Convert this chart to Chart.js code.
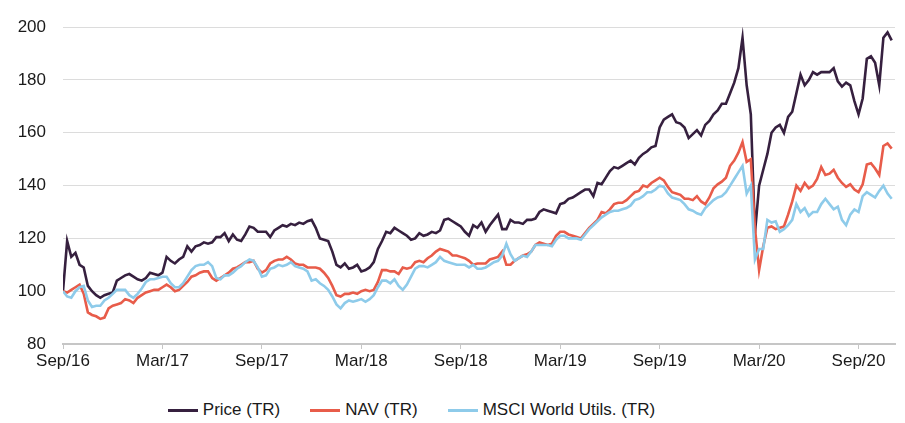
<!DOCTYPE html>
<html lang="en">
<head>
<meta charset="UTF-8">
<title>Price, NAV and MSCI World Utilities (TR)</title>
<script src="https://cdn.jsdelivr.net/npm/chart.js"></script>
<style>
  * { margin: 0; padding: 0; box-sizing: border-box; }
  body { width: 905px; height: 423px; background: #fff; font-family: 'Liberation Sans', Arial, sans-serif; color: #1a1a1a; position: relative; overflow: hidden; }
  .chart-box { position: absolute; left: 0; top: 0; width: 905px; height: 385px; }
  .legend { position: absolute; left: 0; top: 398px; width: 905px; height: 24px; padding-right: 82px;
            display: flex; justify-content: center; align-items: center; font-size: 17px; }
  .legend .item { display: flex; align-items: center; margin: 0 15px; }
  .legend .swatch { width: 30px; height: 3px; margin-right: 5px; }
</style>
</head>
<body>
<div class="chart-box"><canvas id="chart"></canvas></div>
<div class="legend" id="legend"></div>

<script>
// months since Sep/16 for each tick label
const tickLabels = ['Sep/16', 'Mar/17', 'Sep/17', 'Mar/18', 'Sep/18', 'Mar/19', 'Sep/19', 'Mar/20', 'Sep/20'];

// weekly readings (rebased to 100 at Sep/16)
const price = [
  100, 119, 113, 114.5, 110, 109, 102, 100, 98.5, 97.5,
  98.5, 99, 99.5, 104, 105, 106, 106.5, 105.5, 104.5, 104,
  105, 107, 106.5, 106, 107, 113, 111.5, 110.5, 112, 113,
  117, 115, 117, 117.5, 118.5, 118, 118.5, 120.5, 120.5, 122,
  119, 121.5, 119.5, 119, 121.5, 124.5, 124, 122.5, 122.5, 122.5,
  120.5, 123, 124, 125, 124.5, 125.5, 125, 126, 125.5, 126.5,
  127, 124, 120, 119.5, 119, 115, 110, 109, 110.5, 108.5,
  109, 110, 107.5, 108, 109, 111, 116, 119, 122.5, 122,
  124, 123, 122, 121, 119.5, 120, 122, 121, 121.5, 122.5,
  122, 123, 127, 127.5, 126.5, 125.5, 124.5, 122.5, 121, 125,
  124, 126, 122.5, 125, 127, 129, 123.5, 123.5, 127, 126,
  126, 125.5, 127, 127, 127.5, 130, 131, 130.5, 130, 129.5,
  133, 133.5, 135, 135.5, 136.5, 137.5, 138.5, 138.5, 136, 141,
  140.5, 143, 145.5, 147, 146.5, 147.5, 148.5, 149.5, 148, 150.5,
  152, 153, 154.5, 155, 162, 165, 166, 167, 164, 163.5,
  162, 158, 159.5, 161, 159, 163, 164.5, 167, 168.5, 171,
  171, 175, 179, 184.5, 196, 178, 167, 122, 140, 146,
  152, 160, 162, 163, 160, 166, 168, 175, 182, 178,
  180, 183, 182, 183, 183, 183, 184.5, 179.5, 177.5, 179,
  178, 172, 167, 173, 188, 189, 186.5, 178, 196, 198,
  195
];

const nav = [
  100, 99.5, 100.5, 101.5, 102.5, 99, 92, 91, 90.5, 89.5,
  90, 93.5, 94.5, 95, 95.5, 97, 96.5, 95.5, 97.5, 98.5,
  99.5, 100, 100.5, 100.5, 101.5, 102.5, 101.5, 100, 100.5, 102,
  103.5, 105.5, 106, 107, 107.5, 107.5, 105, 104, 105, 106,
  107, 108.5, 109, 110, 111, 111, 111.5, 108.5, 107, 108,
  110.5, 111.5, 112, 112, 113, 112, 110.5, 110, 110, 109,
  109, 109, 108.5, 107, 105, 102, 98.5, 98, 99, 99,
  99.5, 99, 100, 100.5, 100, 100.5, 103.5, 108, 108, 107.5,
  107.5, 106.5, 109, 108.5, 109, 111, 111.5, 111, 112.5, 113.5,
  115, 116, 115.5, 115, 113.5, 113.5, 113, 112.5, 111.5, 110,
  110.5, 110.5, 110.5, 112, 112.5, 113, 115, 110, 110, 111.5,
  112.5, 113.5, 114, 115, 117.5, 118.5, 118, 117.5, 118, 121,
  122.5, 122.5, 121.5, 121, 120.5, 120, 122, 124, 125.5, 127,
  130, 129.5, 131, 133, 133.5, 133.5, 134.5, 136, 137.5, 138,
  140, 139.5, 141, 142, 143, 142, 139.5, 137.5, 137, 136.5,
  135, 135, 134.5, 136, 134, 133, 135.5, 139, 140.5, 141.5,
  143, 147.5, 149.5, 152.5, 156.5, 149, 150, 124, 108, 117,
  124, 124.5, 123.5, 124, 124.5, 129, 134, 140, 138, 141,
  139, 140, 142.5, 147, 144, 144.5, 146, 143, 141, 139.5,
  140.5, 138.5, 137.5, 140.5, 148, 148.5, 146.5, 144, 155, 156,
  154
];

const msci = [
  100, 98, 97.5, 100, 101.5, 102, 96.5, 94, 94.5, 94.5,
  96.5, 97.5, 99, 100.5, 100.5, 100.5, 98.5, 97.5, 99, 101,
  103.5, 104.5, 104.5, 105, 105.5, 105.5, 103, 101.5, 101.5, 103,
  105.5, 108, 109.5, 110, 110, 111, 109.5, 105, 104.5, 106,
  106, 107, 108.5, 109.5, 111, 112, 111.5, 109, 105.5, 106,
  108.5, 109, 110, 109.5, 110, 111, 109.5, 109, 108.5, 107.5,
  104, 104.5, 103, 102, 100.5, 98, 95, 93.5, 95.5, 96.5,
  96, 96.5, 97, 96, 97, 98.5, 101.5, 104, 104, 103,
  104.5, 102, 100.5, 102.5, 105.5, 108.5, 109.5, 109.5, 109, 110,
  111, 113, 111.5, 111, 110.5, 110, 110, 110, 109, 110,
  108.5, 108.5, 109, 110, 111, 111.5, 113.5, 118, 114, 111.5,
  112.5, 113.5, 113, 115, 117.5, 117.5, 117.5, 117.5, 117, 119.5,
  121, 121, 120, 120, 120, 119.5, 121.5, 123.5, 125, 126.5,
  128, 129, 130, 130.5, 130.5, 131, 131.5, 132.5, 134.5, 135,
  136, 137.5, 137.5, 138.5, 140, 139.5, 137, 135.5, 135, 134.5,
  133, 131, 130.5, 129.5, 129, 131.5, 133, 134.5, 135.5, 136,
  137.5, 140, 142.5, 145, 147.5, 137, 140, 112, 116, 116,
  127, 126, 126.5, 122.5, 123.5, 125, 127, 133, 130, 131.5,
  128.5, 130, 130, 133, 135, 133, 131, 132, 127, 125,
  129, 131, 130, 136, 137.5, 136.5, 135.5, 138, 140, 137,
  135
];

// one reading per week, x measured in months from Sep/16
const months = price.map((_, i) => i / 4);

const series = [
  { label: 'Price (TR)', values: price, color: '#36203f', order: 2 },
  { label: 'NAV (TR)', values: nav, color: '#e85c4a', order: 1 },
  { label: 'MSCI World Utils. (TR)', values: msci, color: '#8ecbea', order: 0 }
];

const font = { family: "'Liberation Sans', Arial, sans-serif", size: 17 };

new Chart(document.getElementById('chart'), {
  type: 'line',
  data: {
    datasets: series.map(s => ({
      label: s.label,
      data: s.values.map((v, i) => ({ x: months[i], y: v })),
      borderColor: s.color,
      backgroundColor: s.color,
      borderWidth: 2.6,
      pointRadius: 0,
      tension: 0,
      order: s.order
    }))
  },
  options: {
    responsive: true,
    maintainAspectRatio: false,
    animation: false,
    layout: { padding: { top: 22, right: 10, left: 0, bottom: 0 } },
    plugins: { legend: { display: false }, tooltip: { enabled: false } },
    scales: {
      x: {
        type: 'linear',
        min: 0,
        max: 50.2,
        afterFit: (scale) => { scale.height = 41; },
        afterBuildTicks: (scale) => { scale.ticks = tickLabels.map((_, i) => ({ value: i * 6 })); },
        ticks: {
          callback: (v) => tickLabels[v / 6],
          color: '#1a1a1a',
          font,
          padding: 2,
          maxRotation: 0,
          autoSkip: false
        },
        grid: { drawOnChartArea: false, drawTicks: true, tickLength: 5, color: '#c6c6c6' },
        border: { display: true, color: '#c6c6c6', width: 2 }
      },
      y: {
        min: 80,
        max: 200,
        afterFit: (scale) => { scale.width = 63; },
        ticks: { stepSize: 20, color: '#1a1a1a', font, padding: 17 },
        grid: { color: '#dcdcdc', lineWidth: 1, drawTicks: false },
        border: { display: false }
      }
    }
  }
});

// legend below the plot
const legend = document.getElementById('legend');
series.forEach(s => {
  const item = document.createElement('div');
  item.className = 'item';
  item.innerHTML = `<span class="swatch" style="background:${s.color}"></span><span>${s.label}</span>`;
  legend.appendChild(item);
});
</script>
</body>
</html>
